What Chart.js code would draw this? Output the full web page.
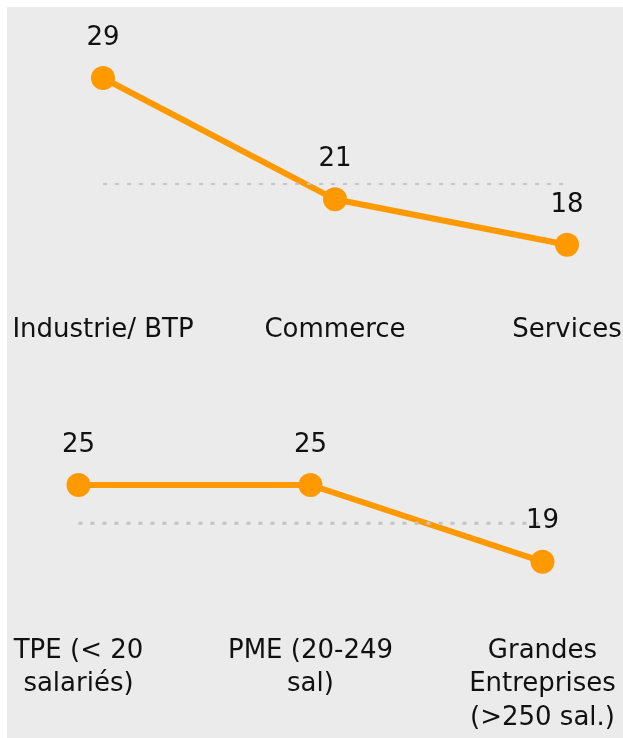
<!DOCTYPE html>
<html lang="fr">

<head>
    <meta charset="UTF-8">
    <meta name="viewport" content="width=device-width, initial-scale=1.0">
    <script src="https://cdn.jsdelivr.net/npm/chart.js"></script>
    <title>Secteurs et tailles</title>

    <style>
        body {
            margin: 0;
            background: #ffffff;
            overflow: hidden;
        }

        .cadre {
            position: relative;
            width: 623px;
            height: 738px;
            overflow: hidden;
        }

        .fond {
            position: absolute;
            left: 7px;
            top: 7px;
            width: 616px;
            height: 731px;
            background: #ebebeb;
        }

        canvas {
            position: absolute;
            left: 0;
        }

        #graphSecteurs {
            top: 0;
        }

        #graphTailles {
            top: 370px;
        }
    </style>
</head>

<body>
    <div class="cadre">
        <div class="fond"></div>
        <!-- canvas plus larges que la page : les etiquettes de droite peuvent deborder -->
        <canvas id="graphSecteurs" width="660" height="370"></canvas>
        <canvas id="graphTailles" width="660" height="380"></canvas>
    </div>

    <script>
        // Donnees
        const secteurs = ['Industrie/ BTP', 'Commerce', 'Services'];
        const valeursSecteurs = [29, 21, 18];

        const tailles = [
            ['TPE (< 20', 'salariés)'],
            ['PME (20-249', 'sal)'],
            ['Grandes', 'Entreprises', '(>250 sal.)']
        ];
        const valeursTailles = [25, 25, 19];

        const moyenne = 22;

        const orange = '#ff9900';
        const police = 'DejaVu Sans';
        const taille = 26;

        Chart.defaults.font.family = police;

        // ligne pointillee de la moyenne
        const ligneMoyenne = {
            id: 'ligneMoyenne',
            afterDatasetsDraw(chart, args, opts) {
                const ctx = chart.ctx;
                const pts = chart.getDatasetMeta(0).data;
                const y = chart.scales.y.getPixelForValue(moyenne);
                ctx.save();
                ctx.strokeStyle = '#c4c4c4';
                ctx.lineWidth = opts.epaisseur;
                ctx.setLineDash([4, 8]);
                ctx.beginPath();
                ctx.moveTo(pts[0].x, y);
                ctx.lineTo(pts[pts.length - 1].x, y);
                ctx.stroke();
                ctx.restore();
            }
        };

        // valeurs au-dessus des points
        const etiquettes = {
            id: 'etiquettes',
            afterDatasetsDraw(chart) {
                const ctx = chart.ctx;
                const meta = chart.getDatasetMeta(0);
                const valeurs = chart.data.datasets[0].data;
                ctx.save();
                ctx.fillStyle = '#111111';
                ctx.font = taille + 'px "' + police + '"';
                ctx.textAlign = 'center';
                ctx.textBaseline = 'middle';
                meta.data.forEach(function (pt, i) {
                    ctx.fillText(valeurs[i], pt.x, pt.y - 40);
                });
                ctx.restore();
            }
        };

        function creerGraphique(id, labels, valeurs, padding, tickPadding, epaisseur) {
            return new Chart(document.getElementById(id), {
                type: 'line',
                data: {
                    labels: labels,
                    datasets: [{
                        data: valeurs,
                        borderColor: orange,
                        backgroundColor: orange,
                        borderWidth: 6,
                        pointRadius: 12,
                        pointHoverRadius: 12,
                        pointBorderWidth: 0,
                        tension: 0,
                        clip: false
                    }]
                },
                options: {
                    responsive: false,
                    animation: false,
                    events: [],
                    layout: { padding: padding },
                    plugins: {
                        legend: { display: false },
                        tooltip: { enabled: false },
                        ligneMoyenne: { epaisseur: epaisseur }
                    },
                    scales: {
                        x: {
                            offset: false,
                            grid: { display: false, drawTicks: false },
                            border: { display: false },
                            ticks: {
                                color: '#111111',
                                font: { size: taille, lineHeight: 1.28 },
                                padding: tickPadding,
                                maxRotation: 0,
                                autoSkip: false
                            }
                        },
                        y: {
                            display: false,
                            min: padding.ymin,
                            max: padding.ymax
                        }
                    }
                },
                plugins: [ligneMoyenne, etiquettes]
            });
        }

        // GRAPHIQUE 1 - secteurs
        const graphSecteurs = creerGraphique('graphSecteurs', secteurs, valeursSecteurs,
            { top: 32.5, bottom: 15.3, left: 103, right: 93, ymin: 14, ymax: 32 }, 8, 2);

        // GRAPHIQUE 2 - tailles
        const graphTailles = creerGraphique('graphTailles', tailles, valeursTailles,
            { top: 76.5, bottom: 6.5, left: 78.5, right: 117.5, ymin: 14, ymax: 28 }, 9, 3);
    </script>
</body>

</html>
